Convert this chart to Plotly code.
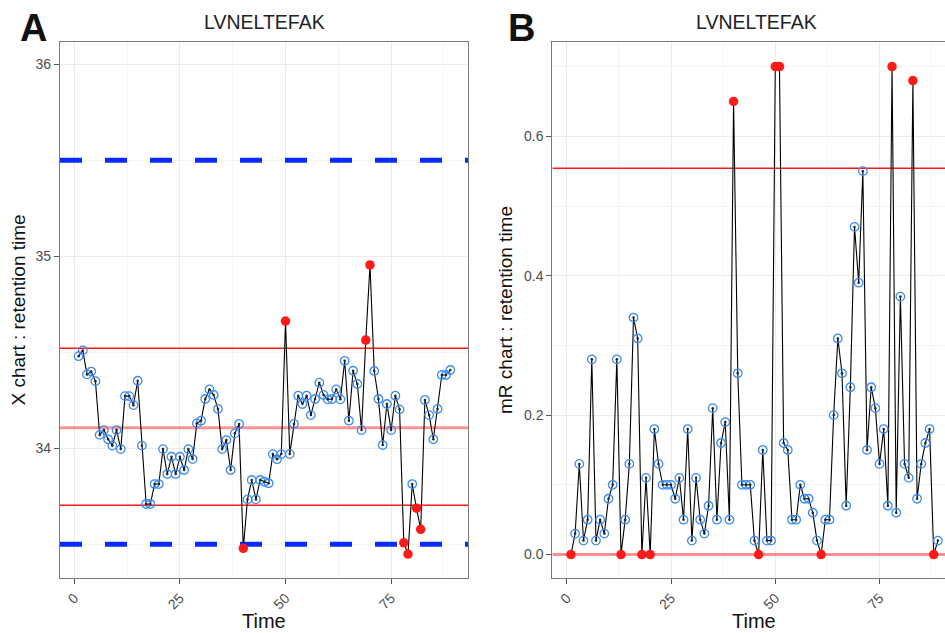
import plotly.graph_objects as go

# ---------------- data ----------------
time = list(range(1, 90))

x_values = [
    34.48, 34.51, 34.385, 34.40, 34.35, 34.07, 34.095, 34.047, 34.014, 34.095,
    33.996, 34.272, 34.272, 34.225, 34.352, 34.014, 33.71, 33.71, 33.814, 33.814,
    33.996, 33.866, 33.956, 33.866, 33.956, 33.887, 33.996, 33.944, 34.13, 34.144,
    34.257, 34.307, 34.278, 34.205, 33.996, 34.043, 33.887, 34.078, 34.127, 33.479,
    33.734, 33.835, 33.734, 33.835, 33.826, 33.818, 33.97, 33.943, 33.97, 34.663,
    33.97, 34.127, 34.274, 34.231, 34.274, 34.173, 34.257, 34.342, 34.278, 34.255,
    34.257, 34.307, 34.255, 34.456, 34.144, 34.404, 34.335, 34.095, 34.564, 34.955,
    34.403, 34.257, 34.017, 34.231, 34.095, 34.274, 34.203, 33.508, 33.449, 33.814,
    33.688, 33.578, 34.252, 34.173, 34.047, 34.205, 34.382, 34.382, 34.408,
]

mr_values = [
    0.0, 0.03, 0.13, 0.02, 0.05, 0.28, 0.02, 0.05, 0.03, 0.08,
    0.10, 0.28, 0.0, 0.05, 0.13, 0.34, 0.31, 0.0, 0.11, 0.0,
    0.18, 0.13, 0.10, 0.10, 0.10, 0.08, 0.11, 0.05, 0.18, 0.02,
    0.11, 0.05, 0.03, 0.07, 0.21, 0.05, 0.16, 0.19, 0.05, 0.65,
    0.26, 0.10, 0.10, 0.10, 0.02, 0.0, 0.15, 0.02, 0.02, 0.70,
    0.70, 0.16, 0.15, 0.05, 0.05, 0.10, 0.08, 0.08, 0.06, 0.02,
    0.0, 0.05, 0.05, 0.20, 0.31, 0.26, 0.07, 0.24, 0.47, 0.39,
    0.55, 0.15, 0.24, 0.21, 0.13, 0.18, 0.07, 0.70, 0.06, 0.37,
    0.13, 0.11, 0.68, 0.08, 0.13, 0.16, 0.18, 0.0, 0.02,
]

x_center = 34.107
x_ucl = 34.521
x_lcl = 33.703
spec_upper = 35.5
spec_lower = 33.5

mr_ucl = 0.554
mr_lcl = 0.0

x_tick_vals = [0, 25, 50, 75]
x_chart_yticks = [34, 35, 36]
mr_chart_yticks = [0.0, 0.2, 0.4, 0.6]

peptide = "LVNELTEFAK"
x_title = "Time"
x_chart_ylabel = "X chart : retention time"
mr_chart_ylabel = "mR chart : retention time"

# ---------------- styling ----------------
W, H = 945, 633
FONT = "Liberation Sans, Arial, sans-serif"
BLUE_PT = "#3a8cf5"
RED = "#ff1a1a"
PINK = "rgba(255,60,60,0.55)"
GRID = "#ebebeb"
MINOR = "#f4f4f4"
FRAME = "#7a7a7a"

x1_range = [-3.39, 93.2]
y1_range = [33.323, 36.118]
x2_range = [-3.45, 90.7]
y2_range = [-0.0341, 0.7357]

fig = go.Figure()


def hline(xa, ya, xr, y, color, width, dash="solid"):
    fig.add_trace(go.Scatter(x=xr, y=[y, y], mode="lines", xaxis=xa, yaxis=ya,
                             line=dict(color=color, width=width, dash=dash),
                             showlegend=False, hoverinfo="skip", cliponaxis=True))


# limit lines first (below the data, above the grid)
hline("x", "y", x1_range, spec_upper, "#0a2bff", 5, "22px,23px")
hline("x", "y", x1_range, spec_lower, "#0a2bff", 5, "22px,23px")
hline("x", "y", x1_range, x_center, PINK, 3)
hline("x", "y", x1_range, x_ucl, RED, 1.5)
hline("x", "y", x1_range, x_lcl, RED, 1.5)
hline("x2", "y2", x2_range, mr_ucl, RED, 1.5)
hline("x2", "y2", x2_range, mr_lcl, PINK, 3)


def add_panel(xa, ya, yvals, flags):
    ok_t = [t for t, f in zip(time, flags) if not f]
    ok_v = [v for v, f in zip(yvals, flags) if not f]
    bad_t = [t for t, f in zip(time, flags) if f]
    bad_v = [v for v, f in zip(yvals, flags) if f]
    fig.add_trace(go.Scatter(x=time, y=yvals, mode="lines", xaxis=xa, yaxis=ya,
                             line=dict(color="black", width=1.1), showlegend=False,
                             hoverinfo="skip"))
    fig.add_trace(go.Scatter(x=ok_t, y=ok_v, mode="markers", xaxis=xa, yaxis=ya,
                             marker=dict(symbol="circle-open", size=8.5, color=BLUE_PT,
                                         line=dict(width=1.3, color=BLUE_PT)),
                             showlegend=False))
    fig.add_trace(go.Scatter(x=time, y=yvals, mode="markers", xaxis=xa, yaxis=ya,
                             marker=dict(size=2.5, color="#222222"),
                             showlegend=False, hoverinfo="skip"))
    fig.add_trace(go.Scatter(x=bad_t, y=bad_v, mode="markers", xaxis=xa, yaxis=ya,
                             marker=dict(size=9.5, color=RED), showlegend=False))


x_flags = [(v > x_ucl) or (v < x_lcl) for v in x_values]
mr_flags = [(v > mr_ucl) or (v <= mr_lcl) for v in mr_values]

add_panel("x", "y", x_values, x_flags)
add_panel("x2", "y2", mr_values, mr_flags)

ydom = [1 - 578.3 / H, 1 - 41.7 / H]
axis_common = dict(
    showgrid=True, gridcolor=GRID, gridwidth=1,
    showline=True, linecolor=FRAME, linewidth=1.2,
    ticks="outside", ticklen=5, tickcolor="#555555", tickwidth=1,
    tickfont=dict(family=FONT, size=14, color="#4d4d4d"),
    zeroline=False,
)

fig.update_layout(
    width=W, height=H,
    margin=dict(l=0, r=0, t=0, b=0),
    paper_bgcolor="white", plot_bgcolor="white",
    xaxis=dict(domain=[60 / W, 468 / W], range=x1_range, anchor="y",
               tickvals=x_tick_vals, tickangle=-45, mirror=True,
               minor=dict(tickvals=[12.5, 37.5, 62.5, 87.5], showgrid=True,
                          gridcolor=MINOR, gridwidth=0.8, ticks=""),
               **axis_common),
    yaxis=dict(domain=ydom, range=y1_range, anchor="x",
               tickvals=x_chart_yticks, mirror=True,
               minor=dict(tickvals=[33.5, 34.5, 35.5], showgrid=True,
                          gridcolor=MINOR, gridwidth=0.8, ticks=""),
               **axis_common),
    xaxis2=dict(domain=[552.4 / W, 1.0], range=x2_range, anchor="y2",
                tickvals=x_tick_vals, tickangle=-45, mirror=True,
                minor=dict(tickvals=[12.5, 37.5, 62.5, 87.5], showgrid=True,
                           gridcolor=MINOR, gridwidth=0.8, ticks=""),
                **axis_common),
    yaxis2=dict(domain=ydom, range=y2_range, anchor="x2",
                tickvals=mr_chart_yticks, tickformat=".1f", mirror=False,
                minor=dict(tickvals=[0.1, 0.3, 0.5, 0.7], showgrid=True,
                           gridcolor=MINOR, gridwidth=0.8, ticks=""),
                **axis_common),
)

anns = [
    dict(text="<b>A</b>", x=33.5 / W, y=1 - 28 / H, size=38, color="#111111"),
    dict(text="<b>B</b>", x=521 / W, y=1 - 28 / H, size=38, color="#111111"),
    dict(text=peptide, x=264 / W, y=1 - 22 / H, size=19.5, color="#222222"),
    dict(text=peptide, x=756 / W, y=1 - 22 / H, size=19.5, color="#222222"),
    dict(text=x_title, x=264 / W, y=1 - 621 / H, size=20, color="#111111"),
    dict(text=x_title, x=754 / W, y=1 - 621 / H, size=20, color="#111111"),
]
for a in anns:
    fig.add_annotation(text=a["text"], x=a["x"], y=a["y"], xref="paper", yref="paper",
                       showarrow=False, xanchor="center", yanchor="middle",
                       font=dict(family=FONT, size=a["size"], color=a["color"]))

for txt, xp in [(x_chart_ylabel, 17.5), (mr_chart_ylabel, 505)]:
    fig.add_annotation(text=txt, x=xp / W, y=1 - 310 / H, xref="paper", yref="paper",
                       showarrow=False, textangle=-90, xanchor="center", yanchor="middle",
                       font=dict(family=FONT, size=19, color="#111111"))

fig.write_html("out.html", config={"displayModeBar": False},
               post_script="document.body.style.margin='0px';")
